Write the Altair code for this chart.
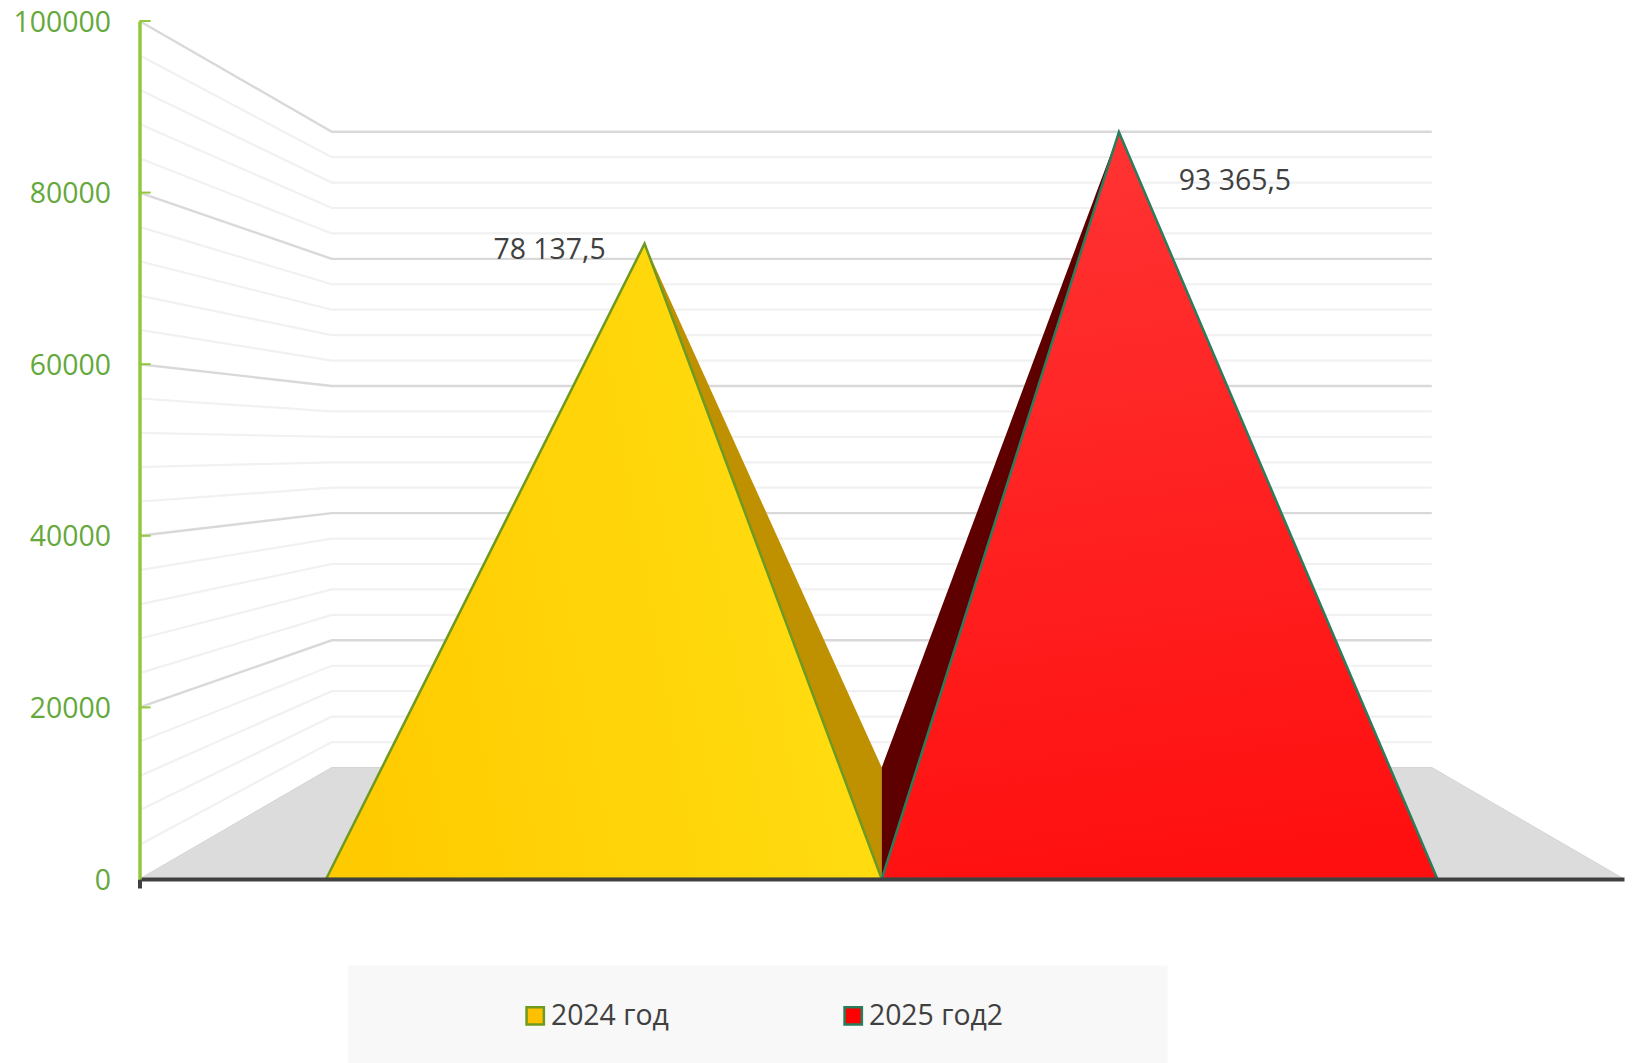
import altair as alt
import pandas as pd

# values
series = ["2024 год", "2025 год2"]
values = [78137.5, 93365.5]
value_labels = ["78 137,5", "93 365,5"]
base_left = [0.1257, 0.5]
base_right = [0.5, 0.8743]
fills_solid = ["#FFC000", "#FF0000"]
strokes = ["#6F9A22", "#2A7D5C"]
side_fill = ["#BF9000", "#5E0000"]
label_dx = [-95, 116]
label_dy = [6, 49]
y_ticks = [0, 20000, 40000, 60000, 80000, 100000]
grid_values = list(range(0, 100001, 4000))

# the 3D box
SHRINK = 0.259        # back plane is this much smaller than the front
FLOOR_RISE = 13000    # the back of the floor, in value units
APEX_DEPTH = 0.565

FONT = "Open Sans"
FS = 28.4
W, H = 1484.5, 858


def px(x, depth):
    return 0.5 + (x - 0.5) * (1 - depth * SHRINK)


def py(v, depth):
    return v * (1 - depth * SHRINK) + depth * FLOOR_RISE


XS = alt.Scale(domain=[0, 1], nice=False, zero=False)
YS = alt.Scale(domain=[0, 100000], nice=False, zero=False)
X_AXIS = alt.Axis(values=[0], labels=False, title=None, grid=False, domainColor="#404040",
                  domainWidth=4, tickColor="#404040", tickWidth=4, tickSize=9, zindex=1)
Y_AXIS = alt.Axis(values=y_ticks, title=None, grid=False, ticks=False, domainColor="#92C83E",
                  domainWidth=3.5, labelColor="#65A83C", labelFont=FONT, labelFontSize=FS,
                  labelPadding=29, format="d", labelFlush=False, labelOverlap=False,
                  labelOffset=1, zindex=1)
X = alt.X("x:Q", scale=XS, axis=X_AXIS)
Y = alt.Y("y:Q", scale=YS, axis=Y_AXIS)

layers = []

# legend backdrop
legend_box = pd.DataFrame({"x": [0.1405], "x1": [0.6926], "y": [-10082], "y1": [-21600]})
layers.append(alt.Chart(legend_box).mark_rect(fill="#F8F8F8").encode(x=X, x2="x1:Q", y=Y, y2="y1:Q"))

# floor
floor = pd.DataFrame({
    "x": [px(0, 0), px(0, 1), px(1, 1), px(1, 0)],
    "y": [py(0, 0), py(0, 1), py(0, 1), py(0, 0)],
    "y0": [0, 0, 0, 0],
})
layers.append(alt.Chart(floor).mark_area(fill="#DCDCDC", stroke="#D4D4D4", strokeWidth=1).encode(x=X, y=Y, y2="y0:Q"))

# walls
rows = []
for v in grid_values:
    if v == 0:
        continue
    major = v % 20000 == 0
    for x, d in [(0, 0), (0, 1), (1, 1)]:
        rows.append({"x": px(x, d), "y": py(v, d), "v": v, "d": d, "major": major})
grid = pd.DataFrame(rows)
layers.append(alt.Chart(grid[~grid.major]).mark_line(color="#F1F1F1", strokeWidth=2.2).encode(
    x=X, y=Y, detail="v:Q", order="i:Q").transform_window(i="row_number()", groupby=["v"]))
layers.append(alt.Chart(grid[grid.major]).mark_line(color="#D9D9D9", strokeWidth=2.4).encode(
    x=X, y=Y, detail="v:Q", order="i:Q").transform_window(i="row_number()", groupby=["v"]))

# green ticks on the inside of the value axis
ticks = pd.DataFrame({"x": [0.0] * len(y_ticks), "x1": [0.0075] * len(y_ticks), "y": y_ticks})
layers.append(alt.Chart(ticks).mark_rule(color="#92C83E", strokeWidth=2).encode(x=X, x2="x1:Q", y=Y))

gradients = [
    alt.LinearGradient(gradient="linear", x1=0, y1=0.6, x2=1, y2=0.4,
                       stops=[alt.GradientStop(color="#FFCB00", offset=0),
                              alt.GradientStop(color="#FFDE12", offset=1)]),
    alt.LinearGradient(gradient="linear", x1=0.45, y1=0, x2=0.55, y2=1,
                       stops=[alt.GradientStop(color="#FF3333", offset=0),
                              alt.GradientStop(color="#FF0F0F", offset=1)]),
]

for i in range(2):
    xl, xr, v = base_left[i], base_right[i], values[i]
    xc = (xl + xr) / 2
    apex_x, apex_y = px(xc, APEX_DEPTH), py(v, APEX_DEPTH)
    # side face: apex to the seam in the middle of the floor
    side = pd.DataFrame({
        "x": [apex_x, px(0.5, 1)],
        "y": [apex_y, py(0, 1)],
        "y0": [apex_y, 0],
    })
    layers.append(alt.Chart(side).mark_area(fill=side_fill[i]).encode(x=X, y=Y, y2="y0:Q"))

for i in range(2):
    xl, xr, v = base_left[i], base_right[i], values[i]
    xc = (xl + xr) / 2
    apex_x, apex_y = px(xc, APEX_DEPTH), py(v, APEX_DEPTH)
    front = pd.DataFrame({"x": [xl, apex_x, xr], "y": [0, apex_y, 0], "y0": [0, 0, 0]})
    layers.append(alt.Chart(front).mark_area(fill=gradients[i], stroke=strokes[i], strokeWidth=2.5).encode(
        x=X, y=Y, y2="y0:Q"))
    lab = pd.DataFrame({"x": [apex_x], "y": [apex_y], "t": [value_labels[i]]})
    layers.append(alt.Chart(lab).mark_text(font=FONT, fontSize=FS, color="#404040",
                                           dx=label_dx[i], dy=label_dy[i]).encode(x=X, y=Y, text="t:N"))

# legend
carrier = pd.DataFrame({"x": [0.5, 0.5], "y": [0, 0], "s": series})
legend = alt.Legend(title=None, orient="none", direction="horizontal", columns=2, legendX=381.5, legendY=980.5,
                    symbolType="square", symbolSize=300, symbolStrokeWidth=2.5, labelFont=FONT,
                    labelFontSize=FS, labelColor="#404040", labelOffset=1.5, columnPadding=170,
                    padding=0, labelLimit=400)
layers.append(alt.Chart(carrier).mark_square(size=0, opacity=1).encode(
    x=X, y=Y,
    color=alt.Color("s:N", scale=alt.Scale(domain=series, range=fills_solid), legend=legend),
    stroke=alt.Stroke("s:N", scale=alt.Scale(domain=series, range=strokes), legend=legend),
))

chart = alt.layer(*layers).properties(
    width=W, height=H,
    padding={"left": 131.5, "top": 13, "right": 5, "bottom": 184},
    autosize=alt.AutoSizeParams(type="none"),
    background="white",
).configure_view(stroke=None)

chart.save("out.html", embed_options={"renderer": "svg", "actions": False})
